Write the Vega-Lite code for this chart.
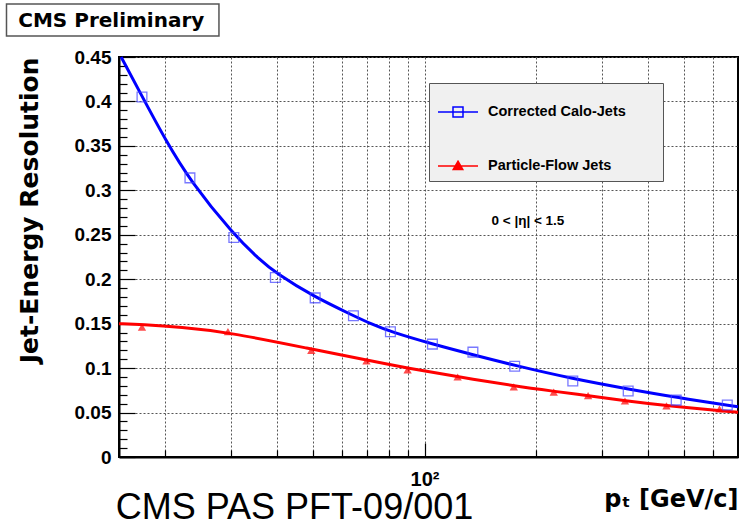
{
  "$schema": "https://vega.github.io/schema/vega-lite/v6.json",
  "width": 619,
  "height": 400,
  "autosize": {"type": "none"},
  "padding": {"left": 119, "top": 57, "right": 5, "bottom": 71},
  "background": "white",
  "config": {
    "font": "Liberation Sans",
    "view": {"stroke": "black", "strokeWidth": 2},
    "axis": {"domainColor": "black", "domainWidth": 2, "tickColor": "black", "tickWidth": 1.2, "gridColor": "#555555", "gridDash": [2, 2], "gridWidth": 1, "labelColor": "black", "titleColor": "black"}
  },
  "data": {
    "values": [
      {"series": "Corrected Calo-Jets", "kind": "point", "pt": 17.3, "res": 0.405},
      {"series": "Corrected Calo-Jets", "kind": "point", "pt": 23.3, "res": 0.314},
      {"series": "Corrected Calo-Jets", "kind": "point", "pt": 30.6, "res": 0.247},
      {"series": "Corrected Calo-Jets", "kind": "point", "pt": 39.6, "res": 0.202},
      {"series": "Corrected Calo-Jets", "kind": "point", "pt": 50.7, "res": 0.179},
      {"series": "Corrected Calo-Jets", "kind": "point", "pt": 64.3, "res": 0.159},
      {"series": "Corrected Calo-Jets", "kind": "point", "pt": 80.9, "res": 0.141},
      {"series": "Corrected Calo-Jets", "kind": "point", "pt": 105, "res": 0.127},
      {"series": "Corrected Calo-Jets", "kind": "point", "pt": 135, "res": 0.118},
      {"series": "Corrected Calo-Jets", "kind": "point", "pt": 175, "res": 0.102},
      {"series": "Corrected Calo-Jets", "kind": "point", "pt": 251, "res": 0.0856},
      {"series": "Corrected Calo-Jets", "kind": "point", "pt": 354, "res": 0.0743},
      {"series": "Corrected Calo-Jets", "kind": "point", "pt": 477, "res": 0.064},
      {"series": "Corrected Calo-Jets", "kind": "point", "pt": 655, "res": 0.0585},
      {"series": "Particle-Flow Jets", "kind": "point", "pt": 17.3, "res": 0.146},
      {"series": "Particle-Flow Jets", "kind": "point", "pt": 29.5, "res": 0.141},
      {"series": "Particle-Flow Jets", "kind": "point", "pt": 49.5, "res": 0.12},
      {"series": "Particle-Flow Jets", "kind": "point", "pt": 69.7, "res": 0.108},
      {"series": "Particle-Flow Jets", "kind": "point", "pt": 90, "res": 0.098},
      {"series": "Particle-Flow Jets", "kind": "point", "pt": 122.8, "res": 0.09},
      {"series": "Particle-Flow Jets", "kind": "point", "pt": 174, "res": 0.079},
      {"series": "Particle-Flow Jets", "kind": "point", "pt": 223, "res": 0.073},
      {"series": "Particle-Flow Jets", "kind": "point", "pt": 276, "res": 0.069},
      {"series": "Particle-Flow Jets", "kind": "point", "pt": 347, "res": 0.063},
      {"series": "Particle-Flow Jets", "kind": "point", "pt": 449, "res": 0.0574},
      {"series": "Particle-Flow Jets", "kind": "point", "pt": 624, "res": 0.054},
      {"series": "Corrected Calo-Jets", "kind": "fit", "pt": 15.2, "res": 0.45},
      {"series": "Corrected Calo-Jets", "kind": "fit", "pt": 17.3, "res": 0.406},
      {"series": "Corrected Calo-Jets", "kind": "fit", "pt": 20, "res": 0.357},
      {"series": "Corrected Calo-Jets", "kind": "fit", "pt": 23.3, "res": 0.311},
      {"series": "Corrected Calo-Jets", "kind": "fit", "pt": 30.6, "res": 0.25},
      {"series": "Corrected Calo-Jets", "kind": "fit", "pt": 35.7, "res": 0.223},
      {"series": "Corrected Calo-Jets", "kind": "fit", "pt": 40, "res": 0.206},
      {"series": "Corrected Calo-Jets", "kind": "fit", "pt": 50, "res": 0.181},
      {"series": "Corrected Calo-Jets", "kind": "fit", "pt": 64.3, "res": 0.159},
      {"series": "Corrected Calo-Jets", "kind": "fit", "pt": 71.5, "res": 0.15},
      {"series": "Corrected Calo-Jets", "kind": "fit", "pt": 80.9, "res": 0.141},
      {"series": "Corrected Calo-Jets", "kind": "fit", "pt": 105, "res": 0.127},
      {"series": "Corrected Calo-Jets", "kind": "fit", "pt": 135, "res": 0.115},
      {"series": "Corrected Calo-Jets", "kind": "fit", "pt": 175, "res": 0.103},
      {"series": "Corrected Calo-Jets", "kind": "fit", "pt": 251, "res": 0.088},
      {"series": "Corrected Calo-Jets", "kind": "fit", "pt": 354, "res": 0.0765},
      {"series": "Corrected Calo-Jets", "kind": "fit", "pt": 477, "res": 0.067},
      {"series": "Corrected Calo-Jets", "kind": "fit", "pt": 700, "res": 0.0566},
      {"series": "Particle-Flow Jets", "kind": "fit", "pt": 15, "res": 0.15},
      {"series": "Particle-Flow Jets", "kind": "fit", "pt": 17.3, "res": 0.149},
      {"series": "Particle-Flow Jets", "kind": "fit", "pt": 22, "res": 0.146},
      {"series": "Particle-Flow Jets", "kind": "fit", "pt": 29.5, "res": 0.1405},
      {"series": "Particle-Flow Jets", "kind": "fit", "pt": 49.5, "res": 0.1215},
      {"series": "Particle-Flow Jets", "kind": "fit", "pt": 69.7, "res": 0.109},
      {"series": "Particle-Flow Jets", "kind": "fit", "pt": 90, "res": 0.1},
      {"series": "Particle-Flow Jets", "kind": "fit", "pt": 122.8, "res": 0.0903},
      {"series": "Particle-Flow Jets", "kind": "fit", "pt": 174, "res": 0.08},
      {"series": "Particle-Flow Jets", "kind": "fit", "pt": 223, "res": 0.0739},
      {"series": "Particle-Flow Jets", "kind": "fit", "pt": 276, "res": 0.069},
      {"series": "Particle-Flow Jets", "kind": "fit", "pt": 347, "res": 0.0633},
      {"series": "Particle-Flow Jets", "kind": "fit", "pt": 449, "res": 0.0577},
      {"series": "Particle-Flow Jets", "kind": "fit", "pt": 700, "res": 0.0503},
      {"kind": "note", "note": "eta", "label": "0 < |η| < 1.5"},
      {"kind": "note", "note": "prelim", "label": "CMS Preliminary"},
      {"kind": "note", "note": "pas", "label": "CMS PAS PFT-09/001"}
    ]
  },
  "encoding": {
    "x": {
      "field": "pt", "type": "quantitative",
      "scale": {"type": "log", "domain": [15, 700], "nice": false},
      "axis": {
        "values": [20, 30, 40, 50, 60, 70, 80, 90, 100, 200, 300, 400, 500, 600],
        "grid": true,
        "labelExpr": "datum.value == 100 ? '10²' : ''",
        "labelFont": "Liberation Sans", "labelFontSize": 20, "labelFontWeight": "bold",
        "labelOverlap": false, "labelFlush": false,
        "tickSize": {"condition": {"test": "datum.value == 100", "value": -14}, "value": -7},
        "labelPadding": 26,
        "title": "pₜ [GeV/c]", "titleAnchor": "end", "titleFont": "DejaVu Sans",
        "titleFontSize": 24, "titleFontWeight": "bold", "titlePadding": -9
      }
    },
    "y": {
      "field": "res", "type": "quantitative",
      "scale": {"domain": [0, 0.45], "nice": false, "zero": false},
      "axis": {
        "values": [0, 0.01, 0.02, 0.03, 0.04, 0.05, 0.06, 0.07, 0.08, 0.09, 0.1, 0.11, 0.12, 0.13, 0.14, 0.15, 0.16, 0.17, 0.18, 0.19, 0.2, 0.21, 0.22, 0.23, 0.24, 0.25, 0.26, 0.27, 0.28, 0.29, 0.3, 0.31, 0.32, 0.33, 0.34, 0.35, 0.36, 0.37, 0.38, 0.39, 0.4, 0.41, 0.42, 0.43, 0.44, 0.45],
        "grid": true,
        "gridOpacity": {"condition": {"test": "abs(datum.value*20 - round(datum.value*20)) < 0.001", "value": 1}, "value": 0},
        "tickSize": {"condition": {"test": "abs(datum.value*20 - round(datum.value*20)) < 0.001", "value": -16}, "value": -8},
        "labelExpr": "abs(datum.value*20 - round(datum.value*20)) < 0.001 ? '' + (round(datum.value*100)/100) : ''",
        "labelFont": "Liberation Sans", "labelFontSize": 19, "labelFontWeight": "bold",
        "labelOverlap": false, "labelFlush": false, "labelBound": false,
        "labelPadding": 24,
        "title": "Jet-Energy Resolution", "titleAnchor": "end", "titleFont": "DejaVu Sans",
        "titleFontSize": 25, "titleFontWeight": "bold", "titlePadding": 32
      }
    }
  },
  "layer": [
    {
      "transform": [{"filter": "datum.kind === 'fit'"}],
      "mark": {"type": "line", "strokeWidth": 3, "interpolate": "basis"},
      "encoding": {
        "color": {
          "field": "series", "type": "nominal",
          "scale": {"domain": ["Corrected Calo-Jets", "Particle-Flow Jets"], "range": ["#0000ff", "#ff0000"]},
          "legend": {
            "orient": "none", "legendX": 310, "legendY": 26, "title": null,
            "fillColor": "#f0f0f0", "strokeColor": "#555555", "padding": 8,
            "symbolSize": 1600, "symbolStrokeWidth": 1.5,
            "labelFont": "Liberation Sans", "labelFontSize": 14.5, "labelFontWeight": "bold", "labelColor": "black",
            "labelOffset": 9, "rowPadding": 25, "labelLimit": 400,
            "labelExpr": "datum.label + '\u2003\u2003\u200b'",
            "encode": {
              "symbols": {
                "update": {
                  "shape": {"signal": "datum.value === 'Corrected Calo-Jets' ? 'M-1,0H1M-0.25,-0.25H0.25V0.25H-0.25Z' : 'M-1,0H1M0,-0.24L0.24,0.18H-0.24Z'"},
                  "fill": {"signal": "datum.value === 'Corrected Calo-Jets' ? 'transparent' : '#ff0000'"}
                }
              }
            }
          }
        }
      }
    },
    {
      "transform": [{"filter": "datum.kind === 'point' && datum.series === 'Corrected Calo-Jets'"}],
      "mark": {"type": "point", "shape": "square", "filled": false, "color": "#4040ff", "size": 95, "strokeWidth": 1.3}
    },
    {
      "transform": [{"filter": "datum.kind === 'point' && datum.series === 'Particle-Flow Jets'"}],
      "mark": {"type": "point", "shape": "triangle-up", "filled": true, "color": "#ff0000", "size": 70}
    },
    {
      "transform": [
        {"joinaggregate": [{"op": "min", "field": "pt", "as": "pt"}, {"op": "min", "field": "res", "as": "res"}]},
        {"filter": "datum.note === 'eta'"}
      ],
      "mark": {"type": "text", "font": "Liberation Sans", "fontSize": 13.5, "fontWeight": "bold", "color": "black", "align": "center", "baseline": "middle"},
      "encoding": {
        "x": {"datum": 190},
        "y": {"datum": 0.266},
        "text": {"field": "label"}
      }
    },
    {
      "transform": [
        {"joinaggregate": [{"op": "min", "field": "pt", "as": "pt"}, {"op": "min", "field": "res", "as": "res"}]},
        {"filter": "datum.note === 'prelim'"}
      ],
      "mark": {"type": "rect", "fill": "white", "stroke": "#555555", "strokeWidth": 1.5, "clip": false},
      "encoding": {
        "x": {"datum": 7.46},
        "x2": {"datum": 27.9},
        "y": {"datum": 0.5097},
        "y2": {"datum": 0.4736}
      }
    },
    {
      "transform": [
        {"joinaggregate": [{"op": "min", "field": "pt", "as": "pt"}, {"op": "min", "field": "res", "as": "res"}]},
        {"filter": "datum.note === 'prelim'"}
      ],
      "mark": {"type": "text", "font": "DejaVu Sans", "fontSize": 20, "fontWeight": "bold", "color": "black", "align": "center", "baseline": "middle"},
      "encoding": {
        "x": {"datum": 14.3},
        "y": {"datum": 0.4905},
        "text": {"field": "label"}
      }
    },
    {
      "transform": [
        {"joinaggregate": [{"op": "min", "field": "pt", "as": "pt"}, {"op": "min", "field": "res", "as": "res"}]},
        {"filter": "datum.note === 'pas'"}
      ],
      "mark": {"type": "text", "font": "Liberation Sans", "fontSize": 36, "color": "black", "align": "left", "baseline": "alphabetic"},
      "encoding": {
        "x": {"datum": 14.7},
        "y": {"datum": -0.0695},
        "text": {"field": "label"}
      }
    }
  ]
}
